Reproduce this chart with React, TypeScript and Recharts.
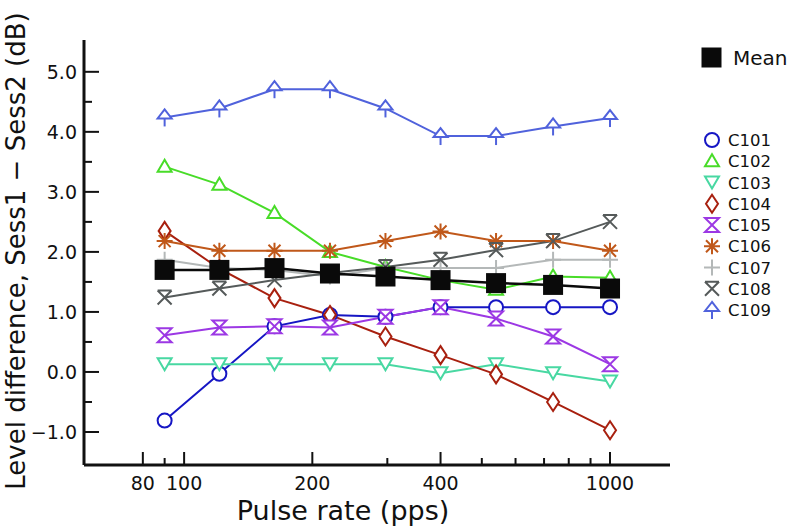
import React from 'react';
import { LineChart, Line, XAxis, YAxis, Legend } from 'recharts';

// pulse rates (pps)
const RATES = [90, 121, 163, 220, 297, 400, 540, 735, 1000];

// level difference Sess1 - Sess2 (dB)
const MEAN = [1.7, 1.7, 1.73, 1.64, 1.59, 1.53, 1.48, 1.45, 1.39];
const C101 = [-0.81, -0.03, 0.76, 0.95, 0.92, 1.08, 1.08, 1.08, 1.08];
const C102 = [3.42, 3.12, 2.65, 2.0, 1.75, 1.53, 1.37, 1.59, 1.57];
const C103 = [0.13, 0.13, 0.13, 0.13, 0.13, -0.02, 0.13, -0.02, -0.16];
const C104 = [2.35, 1.72, 1.23, 0.95, 0.59, 0.28, -0.04, -0.5, -0.97];
const C105 = [0.61, 0.74, 0.76, 0.74, 0.92, 1.08, 0.89, 0.59, 0.13];
const C106 = [2.18, 2.02, 2.02, 2.02, 2.18, 2.34, 2.18, 2.18, 2.02];
const C107 = [1.87, 1.73, 1.7, 1.59, 1.73, 1.73, 1.73, 1.87, 1.87];
const C108 = [1.24, 1.39, 1.53, 1.65, 1.75, 1.87, 2.03, 2.18, 2.5];
const C109 = [4.24, 4.39, 4.71, 4.71, 4.39, 3.93, 3.93, 4.09, 4.23];

const X_TICKS = [80, 90, 100, 200, 300, 400, 500, 600, 700, 800, 900, 1000];
const X_LABELS = [80, 100, 200, 400, 1000];
const Y_TICKS = [-1, -0.5, 0, 0.5, 1, 1.5, 2, 2.5, 3, 3.5, 4, 4.5, 5];

type Kind = 'square' | 'circle' | 'triUp' | 'triDown' | 'diamond' | 'hourglass' | 'star' | 'plus' | 'xbar' | 'arrow';

const SERIES: { key: string; values: number[]; color: string; kind: Kind }[] = [
  { key: 'C101', values: C101, color: '#1616c4', kind: 'circle' },
  { key: 'C102', values: C102, color: '#48dc28', kind: 'triUp' },
  { key: 'C103', values: C103, color: '#48d8a2', kind: 'triDown' },
  { key: 'C104', values: C104, color: '#a8200f', kind: 'diamond' },
  { key: 'C105', values: C105, color: '#9c38e4', kind: 'hourglass' },
  { key: 'C106', values: C106, color: '#c0581a', kind: 'star' },
  { key: 'C107', values: C107, color: '#b4b8b8', kind: 'plus' },
  { key: 'C108', values: C108, color: '#555a5a', kind: 'xbar' },
  { key: 'C109', values: C109, color: '#5062dc', kind: 'arrow' },
];

const rows = RATES.map((rate, i) => {
  const row: Record<string, number> = { rate, Mean: MEAN[i] };
  SERIES.forEach((s) => (row[s.key] = s.values[i]));
  return row;
});

const FONT = '"DejaVu Sans", sans-serif';
const AXIS = '#111';

function marker(kind: Kind, cx: number, cy: number, color: string, key?: string) {
  const sw = 2;
  switch (kind) {
    case 'square':
      return <rect key={key} x={cx - 10} y={cy - 10} width={20} height={20} fill="#0a0a0a" />;
    case 'circle':
      return <circle key={key} cx={cx} cy={cy} r={7} fill="#fff" stroke={color} strokeWidth={sw} />;
    case 'triUp':
      return <polygon key={key} points={`${cx},${cy - 7} ${cx - 7},${cy + 5} ${cx + 7},${cy + 5}`} fill="#fff" stroke={color} strokeWidth={sw} />;
    case 'triDown':
      return <polygon key={key} points={`${cx - 7},${cy - 6} ${cx + 7},${cy - 6} ${cx},${cy + 6}`} fill="#fff" stroke={color} strokeWidth={sw} />;
    case 'diamond':
      return <polygon key={key} points={`${cx},${cy - 9} ${cx + 6},${cy} ${cx},${cy + 9} ${cx - 6},${cy}`} fill="#fff" stroke={color} strokeWidth={sw} />;
    case 'hourglass':
      return <path key={key} d={`M${cx - 7},${cy - 7} L${cx + 7},${cy - 7} L${cx - 7},${cy + 7} L${cx + 7},${cy + 7} Z`} fill="#fff" stroke={color} strokeWidth={sw} strokeLinejoin="miter" />;
    case 'star':
      return (
        <path
          key={key}
          d={`M${cx},${cy - 8} L${cx},${cy + 8} M${cx - 8},${cy} L${cx + 8},${cy} M${cx - 6},${cy - 6} L${cx + 6},${cy + 6} M${cx + 6},${cy - 6} L${cx - 6},${cy + 6}`}
          stroke={color}
          strokeWidth={sw}
        />
      );
    case 'plus':
      return <path key={key} d={`M${cx},${cy - 8} L${cx},${cy + 8} M${cx - 8},${cy} L${cx + 8},${cy}`} stroke={color} strokeWidth={sw} />;
    case 'xbar':
      return (
        <path
          key={key}
          d={`M${cx - 7},${cy - 7} L${cx + 7},${cy - 7} M${cx - 7},${cy - 7} L${cx + 7},${cy + 7} M${cx + 7},${cy - 7} L${cx - 7},${cy + 7}`}
          stroke={color}
          strokeWidth={sw}
          fill="none"
        />
      );
    case 'arrow':
      return (
        <g key={key}>
          <polygon points={`${cx},${cy - 8} ${cx - 7},${cy + 1} ${cx + 7},${cy + 1}`} fill="#fff" stroke={color} strokeWidth={sw} />
          <line x1={cx} x2={cx} y1={cy + 1} y2={cy + 9} stroke={color} strokeWidth={sw} />
        </g>
      );
  }
}

const dotFor = (kind: Kind, color: string, name: string) => (p: any) =>
  marker(kind, p.cx, p.cy, color, `${name}-${p.index}`);

const XTick = (props: any) => {
  const { x, y, payload } = props;
  const major = X_LABELS.includes(payload.value);
  return (
    <g>
      <line x1={x} x2={x} y1={y} y2={y - (major ? 13 : 7)} stroke={AXIS} strokeWidth={2} />
      {major && (
        <text x={x} y={y + 25} textAnchor="middle" fontFamily={FONT} fontSize={19} fill="#111">
          {payload.value}
        </text>
      )}
    </g>
  );
};

const YTick = (props: any) => {
  const { x, y, payload } = props;
  const v = payload.value as number;
  const major = Number.isInteger(v);
  const label = v < 0 ? `\u2212${Math.abs(v).toFixed(1)}` : v.toFixed(1);
  return (
    <g>
      <line x1={x} x2={x + (major ? 15 : 8)} y1={y} y2={y} stroke={AXIS} strokeWidth={2} />
      {major && (
        <text x={x - 7} y={y + 7} textAnchor="end" fontFamily={FONT} fontSize={19} fill="#111">
          {label}
        </text>
      )}
    </g>
  );
};

const XTitle = () => (
  <text x={343} y={520} textAnchor="middle" fontFamily={FONT} fontSize={27} fill="#111">
    Pulse rate (pps)
  </text>
);

const YTitle = () => (
  <text x={25} y={251} transform="rotate(-90, 25, 251)" textAnchor="middle" fontFamily={FONT} fontSize={26} fill="#111">
    Level difference, Sess1 {'\u2212'} Sess2 (dB)
  </text>
);

const LegendBox = () => (
  <svg width={94} height={290} style={{ display: 'block', overflow: 'visible' }}>
    {marker('square', 16.5, 17.5, '#000')}
    <text x={38} y={25} fontFamily={FONT} fontSize={20} fill="#111">
      Mean
    </text>
    {SERIES.map((s, i) => {
      const cy = 100 + i * 21.25;
      return (
        <g key={s.key}>
          {marker(s.kind, 17, cy, s.color)}
          <text x={33} y={cy + 6} fontFamily={FONT} fontSize={16.5} fill="#111">
            {s.key}
          </text>
        </g>
      );
    })}
  </svg>
);

export default function App() {
  return (
    <div style={{ position: 'absolute', left: 0, top: 0, width: 789, height: 526, background: '#fff' }}>
      <LineChart width={789} height={526} data={rows} margin={{ top: 40, right: 119, bottom: 0, left: 0 }}>
        <XAxis
          dataKey="rate"
          type="number"
          scale="log"
          domain={[58.2, 1383]}
          allowDataOverflow
          ticks={X_TICKS}
          interval={0}
          height={61}
          tickSize={0}
          tickMargin={0}
          tickLine={false}
          tick={<XTick />}
          axisLine={{ stroke: AXIS, strokeWidth: 3 }}
          label={<XTitle />}
        />
        <YAxis
          type="number"
          domain={[-1.55, 5.53]}
          allowDataOverflow
          ticks={Y_TICKS}
          interval={0}
          width={84}
          tickSize={0}
          tickMargin={0}
          tickLine={false}
          tick={<YTick />}
          axisLine={{ stroke: AXIS, strokeWidth: 3 }}
          label={<YTitle />}
        />
        <Legend
          layout="horizontal"
          verticalAlign="middle"
          align="center"
          content={<LegendBox />}
          wrapperStyle={{ left: 695, top: 40, width: 94, height: 290 }}
        />
        {SERIES.map((s) => (
          <Line
            key={s.key}
            dataKey={s.key}
            stroke={s.color}
            strokeWidth={2}
            dot={dotFor(s.kind, s.color, s.key)}
            activeDot={false}
            isAnimationActive={false}
          />
        ))}
        <Line
          dataKey="Mean"
          stroke="#0a0a0a"
          strokeWidth={2.5}
          dot={dotFor('square', '#000', 'Mean')}
          activeDot={false}
          isAnimationActive={false}
        />
      </LineChart>
    </div>
  );
}
